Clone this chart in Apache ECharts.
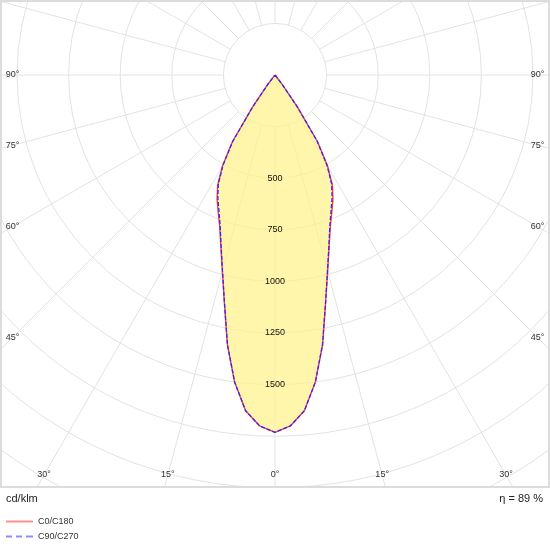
<!DOCTYPE html>
<html><head><meta charset="utf-8">
<script src="https://cdn.jsdelivr.net/npm/echarts@6/dist/echarts.min.js"></script>
<style>html,body{margin:0;padding:0;background:#fff}#c{width:550px;height:550px}</style>
</head><body><div id="c"></div>
<script>
// gamma angles (degrees from nadir) and intensities in cd/klm
const gammaAngles = [0,2.5,5,7.5,10,12.5,15,17.5,20,22.5,25,27.5,30,32.5,35,37.5,40,45,50,55,60,65,70,75,80,85,90];
const c0c180  = [1731,1702,1633,1500,1328,1133,985,872,783,719,664,602,509,385,190,60,10,2,0,0,0,0,0,0,0,0,0];
const c90c270 = [1731,1702,1633,1500,1326,1131,983,868,777,710,655,594,503,380,187,58,10,2,0,0,0,0,0,0,0,0,0];
const radiusTickLabels = [500,750,1000,1250,1500];
const angleTickLabels = [0,15,30,45,60,75,90];
const seriesNames = ['C0/C180','C90/C270'];
const unitText = 'cd/klm';
const efficiencyText = 'η = 89 %';

function buildCurve(vals){
  const pts=[];
  for(let i=gammaAngles.length-1;i>=0;i--) pts.push([vals[i], -gammaAngles[i]]);
  for(let i=1;i<gammaAngles.length;i++) pts.push([vals[i], gammaAngles[i]]);
  return pts;
}
const FONT = '"Liberation Sans", Arial, sans-serif';
const chart = echarts.init(document.getElementById('c'), null, {renderer:'canvas'});
const CX=275, CY=75, R=516, RMAX=2500, RMIN_GRID=250;
const gridColor = '#e3e3e3';
chart.setOption({
  animation:false,
  backgroundColor:'#fff',
  polar:[
    {center:[CX,CY], radius:[R*RMIN_GRID/RMAX, R]},
    {center:[CX,CY], radius:[0, R]}
  ],
  angleAxis:[
    {polarIndex:0,type:'value',min:-180,max:180,interval:15,startAngle:90,clockwise:true,
     axisLine:{show:false},axisTick:{show:false},axisLabel:{show:false},
     splitLine:{show:true,lineStyle:{color:gridColor,width:1}}},
    {polarIndex:1,type:'value',min:-180,max:180,startAngle:90,clockwise:true,show:false}
  ],
  radiusAxis:[
    {polarIndex:0,type:'value',min:RMIN_GRID,max:RMAX,interval:250,
     axisLine:{show:false},axisTick:{show:false},axisLabel:{show:false},
     splitLine:{show:true,lineStyle:{color:gridColor,width:1}}},
    {polarIndex:1,type:'value',min:0,max:RMAX,show:false}
  ],
  legend:{
    orient:'vertical', left:6, top:517, padding:0, itemWidth:27, itemHeight:10, itemGap:6,
    textStyle:{fontSize:9, color:'#333', fontFamily:FONT},
    data:[
      {name:seriesNames[0], icon:'path://M0,4L28,4L28,6L0,6Z', itemStyle:{color:'#ff8c8c'}},
      {name:seriesNames[1], icon:'path://M0,4L6,4L6,6L0,6ZM10,4L16,4L16,6L10,6ZM20,4L27,4L27,6L20,6Z', itemStyle:{color:'#8c8cff'}}
    ]
  },
  series:[
    {name:seriesNames[0], type:'line', coordinateSystem:'polar', polarIndex:1,
     data:buildCurve(c0c180), symbol:'none', z:2,
     lineStyle:{color:'#ff3a3a',width:1.4}, itemStyle:{color:'#ff3a3a'},
     areaStyle:{color:'#fff38a',opacity:0.72}},
    {name:seriesNames[1], type:'line', coordinateSystem:'polar', polarIndex:1,
     data:buildCurve(c90c270), symbol:'none', z:3,
     lineStyle:{color:'#2a2aff',width:1.3,type:[4,2]}, itemStyle:{color:'#2a2aff'}}
  ]
});

function px(r,a){ return chart.convertToPixel({seriesIndex:0},[r,a]); }
const c0 = px(0,0);
const g = [];
g.push({type:'rect', shape:{x:0,y:488,width:550,height:62}, style:{fill:'#fff'}, z:3, silent:true});
g.push({type:'rect', shape:{x:1,y:1,width:548,height:486}, style:{fill:'none', stroke:'#dcdcdc', lineWidth:2}, z:3, silent:true});
angleTickLabels.forEach(function(a){
  const sides = a===0 ? [0] : [a,-a];
  sides.forEach(function(s){
    const p = px(1000, s);
    const dx = p[0]-c0[0], dy = p[1]-c0[1];
    let t = Infinity;
    if (Math.abs(dx) > 1e-6) t = Math.min(t, 262.5/Math.abs(dx));
    if (dy > 1e-6) t = Math.min(t, 400/dy);
    g.push({type:'text', x:c0[0]+dx*t, y:c0[1]+dy*t, z:10,
      style:{text:a+'°', fill:'#333', font:'9px '+FONT, align:'center', verticalAlign:'middle'}});
  });
});
radiusTickLabels.forEach(function(v){
  const p = px(v, 0);
  g.push({type:'text', x:p[0], y:p[1], z:10,
    style:{text:String(v), fill:'#111', font:'9px '+FONT, align:'center', verticalAlign:'middle'}});
});
g.push({type:'text', x:6, y:499, z:10, style:{text:unitText, fill:'#222', font:'11px '+FONT, align:'left', verticalAlign:'middle'}});
g.push({type:'text', x:543, y:499, z:10, style:{text:efficiencyText, fill:'#222', font:'11px '+FONT, align:'right', verticalAlign:'middle'}});
chart.setOption({graphic:{elements:g}});
</script></body></html>
